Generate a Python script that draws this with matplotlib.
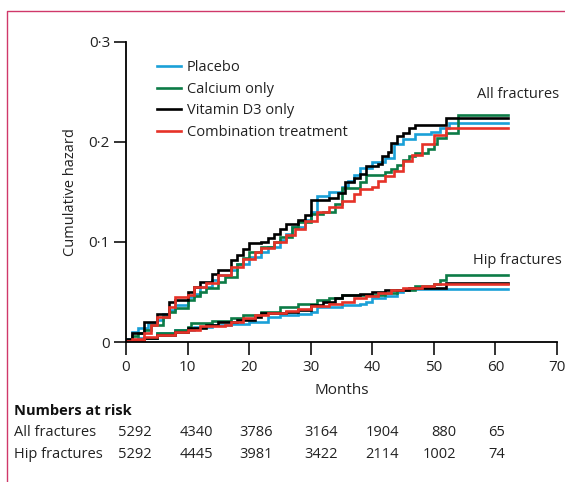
import matplotlib
matplotlib.use("Agg")
import matplotlib.pyplot as plt
from matplotlib.lines import Line2D
from matplotlib.ticker import FuncFormatter

plt.rcParams['font.family'] = ['Open Sans', 'DejaVu Sans']

# ---------------- data ----------------
groups = ["Placebo", "Calcium only", "Vitamin D3 only", "Combination treatment"]
colors = ["#1aa0d8", "#0c7b46", "#000000", "#e63228"]

# All fractures (months, cumulative hazard) – post-step
all_placebo_t = [0, 1, 2, 3.5, 5, 6, 7, 8, 10, 11, 12, 14, 15, 17, 18, 20, 22, 23, 25, 26, 27, 29, 30, 31, 33, 35, 36, 37, 38, 40, 42, 43.5, 45, 47, 49.5, 51, 52.5, 62]
all_placebo_h = [0.003, 0.010, 0.014, 0.0195, 0.022, 0.028, 0.032, 0.037, 0.045, 0.048, 0.055, 0.062, 0.067, 0.072, 0.078, 0.085, 0.090, 0.095, 0.102, 0.108, 0.115, 0.122, 0.130, 0.146, 0.150, 0.155, 0.161, 0.167, 0.174, 0.180, 0.184, 0.198, 0.203, 0.208, 0.210, 0.214, 0.219, 0.219]

all_calcium_t = [0, 1, 2, 3, 4, 6, 7, 8, 10, 11, 12, 13, 15, 16, 18, 19, 20, 22, 24, 25, 27, 28, 30, 32, 34, 35, 38, 39, 42, 43, 44, 45, 46, 47, 49, 50, 50.5, 52, 54, 62]
all_calcium_h = [0.002, 0.006, 0.009, 0.012, 0.017, 0.025, 0.030, 0.034, 0.042, 0.046, 0.050, 0.054, 0.060, 0.065, 0.078, 0.084, 0.090, 0.095, 0.100, 0.105, 0.115, 0.120, 0.128, 0.130, 0.138, 0.154, 0.160, 0.167, 0.170, 0.173, 0.177, 0.182, 0.186, 0.189, 0.193, 0.198, 0.204, 0.209, 0.2265, 0.2265]

all_vitd_t = [0, 1, 3, 5, 7, 8, 10, 11, 12, 14, 15, 17, 18, 19, 20, 22, 23, 24, 25, 26, 28, 29, 30, 33, 34.5, 35.5, 37, 38, 39, 41, 41.5, 42.5, 43, 44, 45, 46, 47, 52, 62]
all_vitd_h = [0.003, 0.009, 0.020, 0.028, 0.040, 0.042, 0.050, 0.055, 0.060, 0.068, 0.072, 0.082, 0.087, 0.093, 0.099, 0.100, 0.104, 0.108, 0.113, 0.118, 0.122, 0.127, 0.142, 0.144, 0.149, 0.160, 0.164, 0.168, 0.176, 0.178, 0.186, 0.190, 0.199, 0.206, 0.209, 0.214, 0.217, 0.2235, 0.2235]

all_combo_t = [0, 1, 3, 4, 5, 7, 8, 10, 11, 13, 15, 17, 19, 21, 22, 24, 26, 27.5, 29, 31, 33, 35, 37, 38, 40, 41, 42, 43.5, 45, 46.5, 48, 50, 52, 62]
all_combo_h = [0.001, 0.003, 0.009, 0.017, 0.025, 0.035, 0.045, 0.047, 0.055, 0.059, 0.067, 0.075, 0.083, 0.090, 0.094, 0.100, 0.107, 0.113, 0.121, 0.130, 0.135, 0.141, 0.148, 0.153, 0.155, 0.161, 0.166, 0.171, 0.181, 0.187, 0.198, 0.207, 0.214, 0.214]

# Hip fractures
hip_placebo_t = [0, 2, 5, 8, 11, 14, 17, 20, 23, 25, 28, 30, 31, 35, 38, 39, 40, 42, 44, 45, 62]
hip_placebo_h = [0.001, 0.004, 0.009, 0.012, 0.015, 0.017, 0.018, 0.020, 0.025, 0.027, 0.028, 0.030, 0.035, 0.037, 0.038, 0.040, 0.044, 0.046, 0.050, 0.053, 0.053]

hip_calcium_t = [0, 3, 5, 8, 10, 10.5, 14, 17, 19, 22, 25, 28, 31, 33, 35, 42, 44, 47, 50, 51, 52, 62]
hip_calcium_h = [0.002, 0.004, 0.009, 0.012, 0.0155, 0.019, 0.021, 0.024, 0.027, 0.030, 0.035, 0.038, 0.042, 0.044, 0.047, 0.049, 0.052, 0.056, 0.058, 0.062, 0.067, 0.067]

hip_vitd_t = [0, 3, 5, 8, 10, 13, 15, 18, 21, 22, 26, 28, 30, 32, 34, 35, 38, 40, 42, 46, 52, 62]
hip_vitd_h = [0.002, 0.004, 0.007, 0.010, 0.014, 0.017, 0.020, 0.022, 0.025, 0.029, 0.030, 0.032, 0.037, 0.040, 0.044, 0.047, 0.048, 0.050, 0.052, 0.054, 0.059, 0.059]

hip_combo_t = [0, 3, 5, 8, 10, 12, 16, 17, 19, 21, 23, 26, 28, 30, 33, 35, 37, 39, 41, 43, 45, 48, 50, 62]
hip_combo_h = [0.001, 0.005, 0.007, 0.010, 0.012, 0.016, 0.017, 0.020, 0.024, 0.027, 0.029, 0.031, 0.033, 0.036, 0.038, 0.040, 0.044, 0.046, 0.049, 0.052, 0.054, 0.056, 0.058, 0.058]

risk_rows = ["All fractures", "Hip fractures"]
risk_all = [5292, 4340, 3786, 3164, 1904, 880, 65]
risk_hip = [5292, 4445, 3981, 3422, 2114, 1002, 74]

x_ticks = [0, 10, 20, 30, 40, 50, 60, 70]
y_ticks = [0, 0.1, 0.2, 0.3]

# ---------------- figure ----------------
fig = plt.figure(figsize=(5.65, 4.82), dpi=100)
ax = fig.add_axes([126 / 565, 140 / 482, (557 - 126) / 565, 300 / 482])

all_series = [(all_placebo_t, all_placebo_h), (all_calcium_t, all_calcium_h),
              (all_vitd_t, all_vitd_h), (all_combo_t, all_combo_h)]
hip_series = [(hip_placebo_t, hip_placebo_h), (hip_calcium_t, hip_calcium_h),
              (hip_vitd_t, hip_vitd_h), (hip_combo_t, hip_combo_h)]

lw = 1.9
for (t, h), c in zip(hip_series, colors):
    ax.step(t, h, where='post', color=c, lw=lw, solid_joinstyle='miter')
for (t, h), c, g in zip(all_series, colors, groups):
    ax.step(t, h, where='post', color=c, lw=lw, solid_joinstyle='miter', label=g)

ax.set_xlim(0, 70)
ax.set_ylim(0, 0.3)
ax.set_xticks(x_ticks)
ax.set_yticks(y_ticks)
ax.yaxis.set_major_formatter(FuncFormatter(lambda v, p: "0" if abs(v) < 1e-9 else f"{v:.1f}".replace(".", "·")))
for s in ["top", "right"]:
    ax.spines[s].set_visible(False)
for s in ["left", "bottom"]:
    ax.spines[s].set_linewidth(1.3)
fs = 10.5
ax.tick_params(direction='out', length=9, width=1.3, labelsize=11, colors='#222222', pad=2.5)
ax.tick_params(axis='x', pad=4)
ax.set_xlabel("Months", fontsize=11, color='#222222', labelpad=5.5)
ax.set_ylabel("Cumulative hazard", fontsize=10.5, color='#222222')
ax.yaxis.set_label_coords(-0.111, 0.5)

leg = ax.legend(loc='upper left', bbox_to_anchor=(0.058, 0.958), frameon=False, fontsize=fs,
                handlelength=1.65, handletextpad=0.42, labelspacing=0.44, borderaxespad=0)
for t in leg.get_texts():
    t.set_color('#222222')

ax.text(70.3, 0.247, "All fractures", ha='right', va='center', fontsize=fs, color='#222222')
ax.text(70.7, 0.081, "Hip fractures", ha='right', va='center', fontsize=fs, color='#222222')

# Numbers at risk
risk_x = [4.2, 14.1, 23.9, 34.4, 44.3, 53.7, 61.5]
fig.text(14 / 565, 1 - 411 / 482, "Numbers at risk", fontsize=fs, fontweight='bold', va='center', color='#111111')
for row_y, label, vals in [(433, risk_rows[0], risk_all), (455, risk_rows[1], risk_hip)]:
    fy = 1 - row_y / 482
    fig.text(14 / 565, fy, label, fontsize=fs, va='center', color='#222222')
    for xv, v in zip(risk_x, vals):
        px = 126 + xv * (557 - 126) / 70
        fig.text(px / 565, fy, str(v), fontsize=fs, va='center', ha='right', color='#222222')

# border
bc = '#d0386a'
fig.add_artist(Line2D([7 / 565, 7 / 565, 1.0], [0, 1 - 11 / 482, 1 - 11 / 482],
                      transform=fig.transFigure, color=bc, lw=1.0))

fig.savefig("out.png", dpi=100, facecolor='white')
